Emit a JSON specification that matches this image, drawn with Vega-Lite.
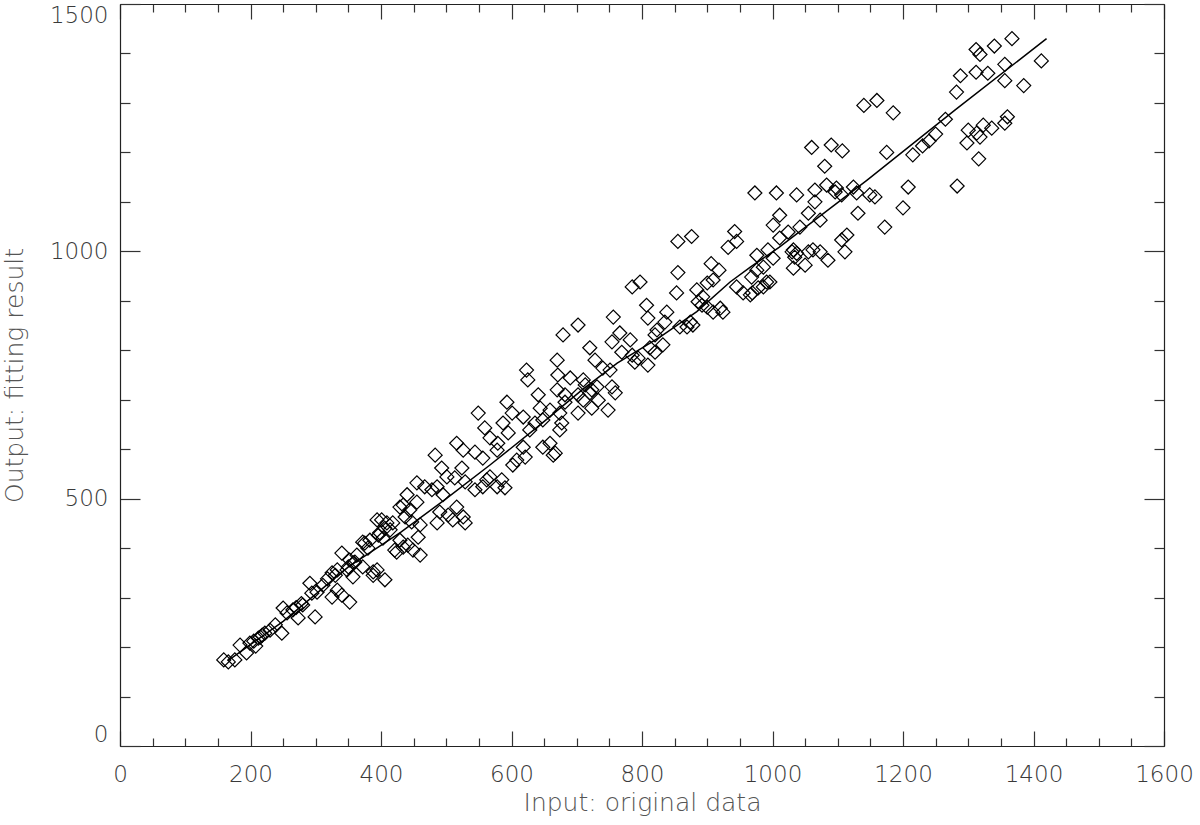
{
  "$schema": "https://vega.github.io/schema/vega-lite/v6.json",
  "width": 1044,
  "height": 742,
  "autosize": "none",
  "padding": {"left": 120, "top": 4, "right": 36, "bottom": 79},
  "background": "white",
  "config": {"view": {"stroke": null}},
  "datasets": {
    "points": [
      {"x":159,"y":174},{"x":166,"y":170},{"x":176,"y":174},{"x":184,"y":204},{"x":194,"y":188},{"x":199,"y":208},{"x":208,"y":202},{"x":215,"y":220},{"x":222,"y":228},{"x":230,"y":234},{"x":248,"y":228},{"x":238,"y":245},{"x":250,"y":279},{"x":256,"y":269},{"x":265,"y":275},{"x":273,"y":259},{"x":299,"y":261},{"x":280,"y":285},{"x":291,"y":329},{"x":294,"y":309},{"x":311,"y":325},{"x":325,"y":301},{"x":340,"y":305},{"x":352,"y":291},{"x":340,"y":390},{"x":325,"y":350},{"x":357,"y":342},{"x":363,"y":386},{"x":352,"y":376},{"x":372,"y":412},{"x":383,"y":416},{"x":394,"y":356},{"x":406,"y":336},{"x":394,"y":457},{"x":409,"y":451},{"x":418,"y":451},{"x":421,"y":396},{"x":429,"y":483},
      {"x":333,"y":356},{"x":348,"y":356},{"x":302,"y":311},{"x":398,"y":431},{"x":414,"y":437},{"x":333,"y":315},{"x":205,"y":212},{"x":212,"y":218},{"x":218,"y":224},{"x":270,"y":280},{"x":278,"y":288},{"x":318,"y":338},{"x":330,"y":345},{"x":350,"y":362},{"x":358,"y":370},{"x":388,"y":345},
      {"x":593,"y":695},{"x":549,"y":673},{"x":625,"y":740},{"x":641,"y":710},{"x":644,"y":683},{"x":601,"y":673},{"x":587,"y":653},{"x":559,"y":643},{"x":567,"y":623},{"x":579,"y":612},{"x":595,"y":633},{"x":618,"y":665},{"x":636,"y":653},{"x":628,"y":639},{"x":648,"y":659},{"x":659,"y":679},{"x":682,"y":695},{"x":702,"y":673},{"x":710,"y":699},{"x":720,"y":714},{"x":659,"y":612},{"x":664,"y":588},{"x":648,"y":604},{"x":618,"y":604},{"x":608,"y":578},{"x":602,"y":568},{"x":621,"y":584},{"x":578,"y":598},{"x":556,"y":582},{"x":544,"y":594},{"x":516,"y":612},{"x":526,"y":598},{"x":524,"y":562},{"x":483,"y":588},{"x":493,"y":562},{"x":501,"y":544},{"x":513,"y":542},{"x":529,"y":534},{"x":544,"y":518},{"x":562,"y":538},{"x":567,"y":544},{"x":578,"y":524},{"x":590,"y":522},{"x":455,"y":532},{"x":467,"y":524},{"x":478,"y":518},{"x":495,"y":508},{"x":440,"y":508},{"x":434,"y":487},{"x":444,"y":477},{"x":455,"y":493},{"x":490,"y":473},{"x":503,"y":467},{"x":516,"y":483},{"x":510,"y":457},{"x":529,"y":451},{"x":486,"y":451},{"x":460,"y":447},{"x":447,"y":453},{"x":429,"y":416},{"x":434,"y":402},{"x":441,"y":406},{"x":449,"y":396},{"x":460,"y":386},{"x":424,"y":392},{"x":401,"y":457},{"x":403,"y":420},{"x":375,"y":410},{"x":372,"y":362},{"x":388,"y":352},
      {"x":674,"y":673},{"x":585,"y":538},{"x":526,"y":463},{"x":486,"y":524},{"x":437,"y":463},{"x":457,"y":422},{"x":406,"y":440},{"x":396,"y":426},{"x":380,"y":400},{"x":360,"y":372},{"x":556,"y":524},{"x":713,"y":730},{"x":623,"y":760},
      {"x":785,"y":928},{"x":797,"y":938},{"x":853,"y":916},{"x":807,"y":891},{"x":809,"y":865},{"x":838,"y":877},{"x":835,"y":857},{"x":823,"y":841},{"x":820,"y":831},{"x":832,"y":811},{"x":812,"y":805},{"x":820,"y":796},{"x":756,"y":867},{"x":702,"y":851},{"x":679,"y":831},{"x":720,"y":805},{"x":728,"y":780},{"x":754,"y":817},{"x":766,"y":835},{"x":782,"y":821},{"x":769,"y":796},{"x":785,"y":790},{"x":794,"y":784},{"x":789,"y":776},{"x":809,"y":770},{"x":751,"y":760},{"x":740,"y":764},{"x":670,"y":780},{"x":671,"y":750},{"x":690,"y":744},{"x":710,"y":740},{"x":670,"y":720},{"x":682,"y":710},{"x":702,"y":710},{"x":723,"y":720},{"x":731,"y":726},{"x":754,"y":726},{"x":759,"y":714},{"x":723,"y":683},{"x":748,"y":679},{"x":677,"y":653},{"x":674,"y":639},{"x":667,"y":592},{"x":893,"y":908},{"x":900,"y":887},{"x":920,"y":885},{"x":924,"y":877},{"x":909,"y":877},{"x":874,"y":857},{"x":878,"y":851},{"x":869,"y":847},{"x":884,"y":922},{"x":900,"y":936},{"x":945,"y":928},{"x":966,"y":912},{"x":986,"y":928},{"x":996,"y":938},
      {"x":733,"y":699},{"x":892,"y":891},{"x":886,"y":898},{"x":858,"y":847},{"x":909,"y":942},{"x":955,"y":916},
      {"x":973,"y":1118},{"x":1006,"y":1118},{"x":1037,"y":1114},{"x":1065,"y":1124},{"x":1083,"y":1134},{"x":1096,"y":1120},{"x":1106,"y":1114},{"x":1065,"y":1100},{"x":1124,"y":1130},{"x":1129,"y":1118},{"x":1149,"y":1114},{"x":1157,"y":1110},{"x":1208,"y":1130},{"x":1283,"y":1132},{"x":1200,"y":1088},{"x":1172,"y":1049},{"x":1131,"y":1077},{"x":1011,"y":1073},{"x":1001,"y":1053},{"x":1055,"y":1077},{"x":1073,"y":1063},{"x":1042,"y":1049},{"x":1024,"y":1039},{"x":1114,"y":1033},{"x":1106,"y":1023},{"x":1111,"y":999},{"x":1073,"y":999},{"x":1085,"y":982},{"x":1055,"y":999},{"x":1032,"y":1003},{"x":1037,"y":996},{"x":1034,"y":988},{"x":1050,"y":972},{"x":1032,"y":966},{"x":993,"y":1003},{"x":976,"y":992},{"x":986,"y":968},{"x":1001,"y":986},{"x":976,"y":962},{"x":991,"y":938},{"x":978,"y":926},{"x":969,"y":916},{"x":1011,"y":1027},
      {"x":1098,"y":1128},{"x":1062,"y":1003},{"x":1030,"y":999},{"x":968,"y":948},
      {"x":1300,"y":1245},{"x":1313,"y":1239},{"x":1323,"y":1255},{"x":1318,"y":1231},{"x":1336,"y":1249},{"x":1356,"y":1259},{"x":1298,"y":1219},{"x":1316,"y":1187},
      {"x":1367,"y":1430},{"x":1340,"y":1415},{"x":1312,"y":1408},{"x":1318,"y":1398},{"x":1356,"y":1378},{"x":1312,"y":1362},{"x":1330,"y":1360},{"x":1288,"y":1355},{"x":1282,"y":1322},{"x":1356,"y":1345},{"x":1412,"y":1385},{"x":1385,"y":1335},{"x":1265,"y":1267},{"x":1250,"y":1237},{"x":1360,"y":1272},
      {"x":1140,"y":1295},{"x":1160,"y":1305},{"x":1185,"y":1280},{"x":1175,"y":1200},{"x":1215,"y":1195},{"x":1230,"y":1213},{"x":1240,"y":1223},{"x":1060,"y":1210},{"x":1090,"y":1215},{"x":1107,"y":1203},{"x":1080,"y":1172},
      {"x":855,"y":1020},{"x":876,"y":1030},{"x":855,"y":957},{"x":942,"y":1040},{"x":945,"y":1020},{"x":932,"y":1008},{"x":906,"y":975},{"x":918,"y":962}
    ],
    "fit": [
      {"x":165,"y":172},{"x":250,"y":252},{"x":350,"y":362},{"x":430,"y":432},{"x":500,"y":500},{"x":567,"y":568},{"x":640,"y":645},{"x":710,"y":722},{"x":762,"y":774},{"x":828,"y":827},{"x":884,"y":878},{"x":935,"y":938},{"x":966,"y":968},{"x":1010,"y":1008},{"x":1145,"y":1144},{"x":1280,"y":1286},{"x":1420,"y":1430}
    ]
  },
  "resolve": {"axis": {"x": "independent", "y": "independent"}},
  "layer": [
    {
      "data": {"name": "points"},
      "mark": {"type": "point", "shape": "diamond", "filled": false, "stroke": "black", "strokeWidth": 1.2, "size": 196, "opacity": 1},
      "encoding": {
        "x": {"field": "x", "type": "quantitative", "scale": {"domain": [0, 1600], "nice": false, "zero": false},
          "axis": {"orient": "bottom", "title": "Input: original data", "values": [0,50,100,150,200,250,300,350,400,450,500,550,600,650,700,750,800,850,900,950,1000,1050,1100,1150,1200,1250,1300,1350,1400,1450,1500,1550,1600],
            "labelExpr": "datum.value % 200 === 0 ? datum.label : ''", "format": "d", "labelOverlap": false, "labelFlush": false,
            "grid": false, "domainColor": "#222", "domainWidth": 1.2, "tickColor": "#333", "tickWidth": 1.2,
            "tickSize": {"condition": {"test": "datum.value % 200 === 0", "value": -15}, "value": -8},
            "labelPadding": 32, "labelFont": "DejaVu Sans", "labelFontWeight": 200, "labelFontSize": 23, "labelColor": "#3a3a3a",
            "titleFont": "DejaVu Sans", "titleFontWeight": 200, "titleFontSize": 25, "titleColor": "#555", "titlePadding": -3}},
        "y": {"field": "y", "type": "quantitative", "scale": {"domain": [0, 1500], "nice": false, "zero": false},
          "axis": {"orient": "left", "title": "Output: fitting result", "values": [0,100,200,300,400,500,600,700,800,900,1000,1100,1200,1300,1400,1500],
            "labelExpr": "datum.value % 500 === 0 ? datum.label : ''", "format": "d", "labelOverlap": false, "labelFlush": true,
            "grid": false, "domainColor": "#222", "domainWidth": 1.2, "tickColor": "#333", "tickWidth": 1.2,
            "tickSize": {"condition": {"test": "datum.value % 500 === 0", "value": -20}, "value": -10},
            "labelPadding": 32, "labelFont": "DejaVu Sans", "labelFontWeight": 200, "labelFontSize": 23, "labelColor": "#3a3a3a",
            "titleFont": "DejaVu Sans", "titleFontWeight": 200, "titleFontSize": 25, "titleColor": "#555", "titlePadding": 22}}
      }
    },
    {
      "data": {"name": "fit"},
      "mark": {"type": "line", "color": "black", "strokeWidth": 1.5},
      "encoding": {
        "x": {"field": "x", "type": "quantitative", "scale": {"domain": [0, 1600], "nice": false, "zero": false},
          "axis": {"orient": "top", "title": null, "labels": false, "values": [0,50,100,150,200,250,300,350,400,450,500,550,600,650,700,750,800,850,900,950,1000,1050,1100,1150,1200,1250,1300,1350,1400,1450,1500,1550,1600],
            "grid": false, "domainColor": "#222", "domainWidth": 1.2, "tickColor": "#333", "tickWidth": 1.2,
            "tickSize": {"condition": {"test": "datum.value % 200 === 0", "value": -15}, "value": -8}}},
        "y": {"field": "y", "type": "quantitative", "scale": {"domain": [0, 1500], "nice": false, "zero": false},
          "axis": {"orient": "right", "title": null, "labels": false, "values": [0,100,200,300,400,500,600,700,800,900,1000,1100,1200,1300,1400,1500],
            "grid": false, "domainColor": "#222", "domainWidth": 1.2, "tickColor": "#333", "tickWidth": 1.2,
            "tickSize": {"condition": {"test": "datum.value % 500 === 0", "value": -20}, "value": -10}}}
      }
    }
  ]
}
